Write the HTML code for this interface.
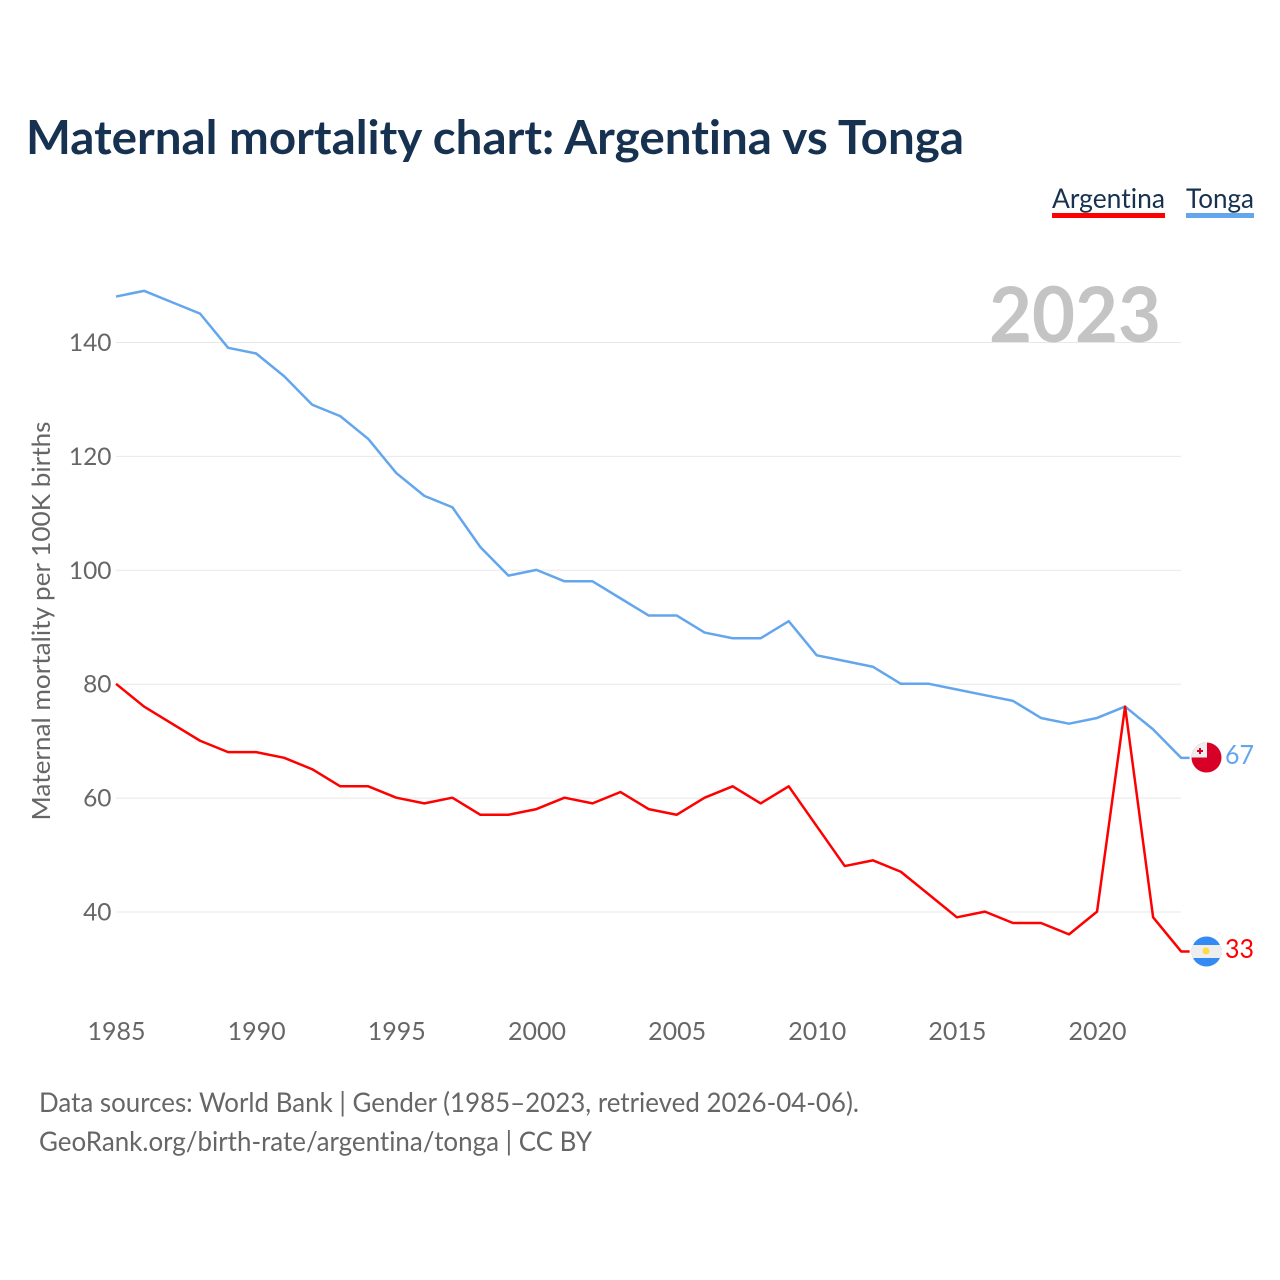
<!DOCTYPE html>
<html lang="en">
<head>
<meta charset="utf-8">
<title>Maternal mortality chart: Argentina vs Tonga</title>
<style>
  html, body { margin: 0; padding: 0; background: #fff; }
  svg { display: block; }
  text { font-family: "Lato", "Carlito", "Liberation Sans", sans-serif; font-variant-ligatures: none; }
</style>
</head>
<body>
<svg id="chart" xmlns="http://www.w3.org/2000/svg" width="1280" height="1280" viewBox="0 0 1280 1280">
  <rect x="0" y="0" width="1280" height="1280" fill="#ffffff"/>
  <text x="26" y="154" font-size="47" font-weight="700" fill="#173251" textLength="938" lengthAdjust="spacingAndGlyphs">Maternal mortality chart: Argentina vs Tonga</text>

  <g>
    <text x="1052" y="208" font-size="27" fill="#173251" textLength="113" lengthAdjust="spacingAndGlyphs">Argentina</text>
    <rect x="1052" y="213" width="113" height="5" fill="#ff0000"/>
  </g>
  <g>
    <text x="1186" y="208" font-size="27" fill="#173251" textLength="68" lengthAdjust="spacingAndGlyphs">Tonga</text>
    <rect x="1186" y="213" width="68" height="5" fill="#63a6ee"/>
  </g>

  <g id="grid"></g>
  <text x="1161" y="342" text-anchor="end" font-size="77" font-weight="700" fill="#c4c4c4" textLength="172" lengthAdjust="spacingAndGlyphs">2023</text>
  <g id="yticks"></g>
  <g id="xticks"></g>
  <text transform="translate(50 621) rotate(-90)" text-anchor="middle" font-size="25" fill="#666666" textLength="399" lengthAdjust="spacingAndGlyphs">Maternal mortality per 100K births</text>
  <g id="series"></g>

  <defs>
    <clipPath id="clip-tonga"><circle cx="1206.5" cy="757.5" r="15"/></clipPath>
    <clipPath id="clip-argentina"><circle cx="1206.5" cy="951.5" r="15"/></clipPath>
  </defs>
  <g clip-path="url(#clip-tonga)">
    <rect x="1191" y="742" width="31" height="31" fill="#d80027"/>
    <rect x="1191" y="742" width="16" height="15.5" fill="#eeeeee"/>
    <rect x="1197" y="750" width="6" height="2" fill="#d80027"/>
    <rect x="1199" y="748" width="2" height="6" fill="#d80027"/>
  </g>
  <g clip-path="url(#clip-argentina)">
    <rect x="1191" y="936" width="31" height="31" fill="#338af3"/>
    <rect x="1191" y="945" width="31" height="13" fill="#eeeeee"/>
    <circle cx="1206" cy="951" r="3.5" fill="#ffda44"/>
  </g>
  <text id="end-tonga" x="1225" y="764" font-size="26" fill="#63a6ee" textLength="29" lengthAdjust="spacingAndGlyphs"></text>
  <text id="end-argentina" x="1225" y="958" font-size="26" fill="#ff0000" textLength="29" lengthAdjust="spacingAndGlyphs"></text>

  <text x="39" y="1112" font-size="27" fill="#666666" textLength="820" lengthAdjust="spacingAndGlyphs">Data sources: World Bank | Gender (1985–2023, retrieved 2026-04-06).</text>
  <text x="39" y="1151" font-size="27" fill="#666666" textLength="553" lengthAdjust="spacingAndGlyphs">GeoRank.org/birth-rate/argentina/tonga | CC BY</text>
</svg>
<script>
const years = [1985,1986,1987,1988,1989,1990,1991,1992,1993,1994,1995,1996,1997,1998,1999,2000,2001,2002,2003,2004,2005,2006,2007,2008,2009,2010,2011,2012,2013,2014,2015,2016,2017,2018,2019,2020,2021,2022,2023];
const argentinaValues = [80,76,73,70,68,68,67,65,62,62,60,59,60,57,57,58,60,59,61,58,57,60,62,59,62,55,48,49,47,43,39,40,38,38,36,40,76,39,33];
const tongaValues = [148,149,147,145,139,138,134,129,127,123,117,113,111,104,99,100,98,98,95,92,92,89,88,88,91,85,84,83,80,80,79,78,77,74,73,74,76,72,67];
const yTickValues = [40,60,80,100,120,140];
const xTickValues = [1985,1990,1995,2000,2005,2010,2015,2020];

const NS = 'http://www.w3.org/2000/svg';
const xScale = function (year) { return 116 + (year - 1985) * 28.03; };
const yScale = function (value) { return 912 - (value - 40) * 5.695; };
const make = function (tag, parent) {
  const el = document.createElementNS(NS, tag);
  parent.appendChild(el);
  return el;
};

const grid = document.getElementById('grid');
const yticks = document.getElementById('yticks');
yTickValues.forEach(function (v) {
  const line = make('line', grid);
  
  
  line.setAttribute('x1', 116);
  line.setAttribute('x2', 1181);
  line.setAttribute('y1', yScale(v));
  line.setAttribute('y2', yScale(v));
  line.setAttribute('stroke', '#e8e8e8');
  line.setAttribute('stroke-width', 1);
  const label = make('text', yticks);
  
  
  label.setAttribute('x', 111.5);
  label.setAttribute('y', yScale(v) + 8.5);
  label.setAttribute('text-anchor', 'end');
  label.setAttribute('font-size', 24.5);
  label.setAttribute('fill', '#666666');
  label.textContent = String(v);
});

const xticks = document.getElementById('xticks');
xTickValues.forEach(function (year) {
  const label = make('text', xticks);
  
  
  label.setAttribute('x', 116.5 + (year - 1985) * 28.03);
  label.setAttribute('y', 1040);
  label.setAttribute('text-anchor', 'middle');
  label.setAttribute('font-size', 25);
  label.setAttribute('fill', '#666666');
  label.textContent = String(year);
});

const seriesGroup = document.getElementById('series');
const drawSeries = function (name, values, color) {
  const points = values.map(function (v, i) { return xScale(years[i]) + ',' + (yScale(v) - 0.4); });
  const lastValue = values[values.length - 1];
  const lastX = xScale(years[years.length - 1]);
  points.push((lastX + 8.5) + ',' + (yScale(lastValue) - 0.4));
  const line = make('polyline', seriesGroup);
  
  
  line.setAttribute('points', points.join(' '));
  line.setAttribute('fill', 'none');
  line.setAttribute('stroke', color);
  line.setAttribute('stroke-width', 2.5);
  line.setAttribute('stroke-linejoin', 'round');
};
drawSeries('tonga', tongaValues, '#63a6ee');
drawSeries('argentina', argentinaValues, '#ff0000');

document.getElementById('end-tonga').textContent = String(tongaValues[tongaValues.length - 1]);
document.getElementById('end-argentina').textContent = String(argentinaValues[argentinaValues.length - 1]);
</script>
</body>
</html>
